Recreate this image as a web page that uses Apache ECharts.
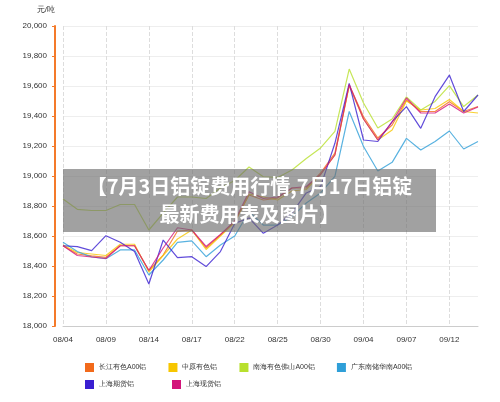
<!DOCTYPE html><html><head><meta charset="utf-8"><script src="https://cdn.jsdelivr.net/npm/echarts@6/dist/echarts.min.js"></script></head><body style="margin:0"><div id="c" style="width:500px;height:402px"></div><script>
const dates=['08/04','08/05','08/06','08/09','08/10','08/11','08/14','08/15','08/16','08/17','08/18','08/21','08/22','08/23','08/24','08/25','08/28','08/29','08/30','08/31','09/01','09/04','09/05','09/06','09/07','09/08','09/11','09/12','09/13','09/14'];
const changjiang=[18535,18480,18467,18458,18535,18535,18370,18473,18633,18640,18520,18607,18695,18873,18840,18853,18920,18920,19020,19153,19607,19395,19253,19340,19507,19430,19430,19495,19430,19463];
const zhongyuan=[18540,18490,18480,18470,18545,18545,18360,18470,18580,18640,18510,18600,18690,18880,18860,18840,18900,18910,19010,19140,19600,19380,19240,19307,19500,19440,19450,19510,19430,19420];
const nanhai=[18847,18778,18770,18770,18810,18810,18640,18753,18860,18860,18850,18920,18970,19060,18995,18990,19040,19117,19187,19297,19713,19487,19320,19380,19527,19440,19497,19603,19463,19540];
const guangdong=[18558,18496,18460,18449,18507,18507,18340,18440,18558,18567,18462,18540,18600,18762,18673,18673,18729,18820,18887,18997,19430,19197,19033,19091,19251,19173,19230,19300,19180,19230];
const shfutures=[18535,18529,18502,18602,18558,18496,18280,18573,18456,18462,18396,18496,18684,18720,18618,18673,18753,18887,18929,19218,19618,19240,19230,19362,19463,19318,19529,19673,19430,19540];
const shspot=[18535,18470,18460,18450,18535,18535,18370,18520,18655,18640,18530,18610,18700,18895,18850,18860,18920,18930,19010,19140,19610,19380,19240,19360,19520,19420,19420,19480,19420,19460];
const names=['长江有色A00铝','中原有色铝','南海有色佛山A00铝','广东南储华南A00铝','上海期货铝','上海现货铝'];
const colors=['#f26a1b','#f7c600','#b8e02e','#2f9fd8','#3a1fd1','#d3157b'];
const all=[changjiang,zhongyuan,nanhai,guangdong,shfutures,shspot];
const ch=echarts.init(document.getElementById('c'));
ch.setOption({
animation:false,color:colors,
grid:{left:63,right:22,top:26,bottom:76},
legend:[{data:names.slice(0,4),left:80,top:358,icon:'rect',itemWidth:9,itemHeight:9,itemGap:22,textStyle:{fontSize:7,color:'#333'}},{data:names.slice(4),left:80,top:375,icon:'rect',itemWidth:9,itemHeight:9,itemGap:38,textStyle:{fontSize:7,color:'#333'}}],
xAxis:{type:'category',data:dates,boundaryGap:false,axisLine:{lineStyle:{color:'#ccc'}},axisTick:{show:false},axisLabel:{interval:2,fontSize:8,color:'#333',margin:10},splitLine:{show:true,interval:2,lineStyle:{type:'dashed',color:'#ddd'}}},
yAxis:{type:'value',name:'元/吨',nameLocation:'end',nameGap:12,nameTextStyle:{fontSize:8,color:'#333',align:'right'},min:18000,max:20000,interval:200,offset:8,axisLine:{show:true,lineStyle:{color:'#f47a2a',width:2}},axisTick:{show:true,length:3,lineStyle:{color:'#f47a2a'}},axisLabel:{fontSize:8,color:'#333',formatter:v=>v.toLocaleString('en-US')},splitLine:{lineStyle:{color:'#eee'}}},
series:all.map((d,i)=>({name:names[i],type:'line',data:d,symbol:'none',lineStyle:{width:1.2,opacity:0.8}})),
graphic:[{type:'rect',z:100,shape:{x:63,y:169,width:373,height:63},style:{fill:'rgba(110,110,110,0.65)'}},
{type:'text',z:101,x:249.5,y:172,style:{text:'【7月3日铝锭费用行情,7月17日铝锭\n最新费用表及图片】',fill:'#fff',font:'bold 20px "Noto Sans CJK SC"',align:'center',verticalAlign:'top',lineHeight:28}}]
});
</script></body></html>
